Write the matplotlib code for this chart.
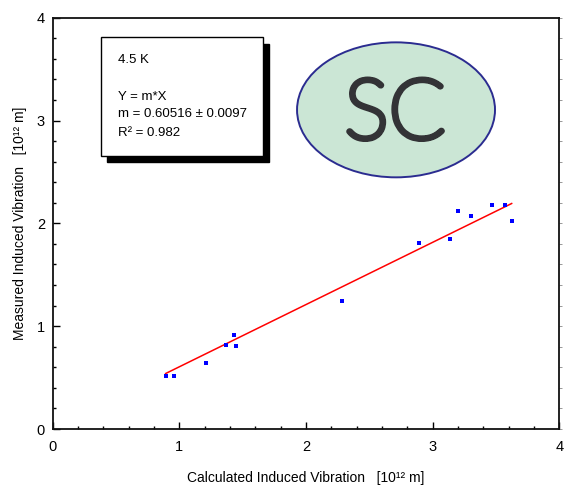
import numpy as np
import matplotlib
matplotlib.use("Agg")
import matplotlib.pyplot as plt
import matplotlib.patheffects as pe
from matplotlib.patches import Ellipse, Rectangle
from matplotlib.ticker import MultipleLocator

plt.rcParams['font.family'] = ['Liberation Sans', 'DejaVu Sans']

# calculated vs measured induced vibration at 4.5 K, units of 10^12 m
calc_vib = [0.892, 0.958, 1.213, 1.371, 1.434, 1.445, 2.282,
            2.890, 3.137, 3.198, 3.300, 3.471, 3.574, 3.624]
meas_vib = [0.513, 0.513, 0.639, 0.814, 0.917, 0.804, 1.248,
            1.806, 1.845, 2.124, 2.075, 2.182, 2.182, 2.023]

# linear fit through the origin, Y = m*X
slope = 0.60516
slope_err = 0.0097
r_squared = 0.982
temperature = "4.5 K"

fig = plt.figure(figsize=(5.65, 4.88), dpi=100)
ax = fig.add_axes([0.0933, 0.1209, 0.8966, 0.8428])

ax.plot(calc_vib, meas_vib, 's', color='#0000ff', markersize=2.4,
        markeredgewidth=0, zorder=3)

fit_x = np.array([min(calc_vib), max(calc_vib)])
ax.plot(fit_x, slope * fit_x, color='#ff0000', linewidth=1.1, zorder=2)

ax.set_xlim(0, 4)
ax.set_ylim(0, 4)
ax.xaxis.set_major_locator(MultipleLocator(1))
ax.xaxis.set_minor_locator(MultipleLocator(0.2))
ax.yaxis.set_major_locator(MultipleLocator(1))
ax.yaxis.set_minor_locator(MultipleLocator(0.2))

ax.tick_params(axis='x', which='major', direction='in', length=5, width=1,
               labelsize=10.5, pad=8)
ax.tick_params(axis='x', which='minor', direction='in', length=2.5, width=1)
ax.tick_params(axis='y', which='major', direction='in', length=5, width=1,
               labelsize=10.5, pad=5.5)
ax.tick_params(axis='y', which='minor', direction='in', length=2.5, width=1)

# short outward ticks along the right frame
ax_r = ax.secondary_yaxis('right')
ax_r.yaxis.set_major_locator(MultipleLocator(0.2))
ax_r.tick_params(direction='out', length=2.5, width=0.6, colors='#888888',
                 labelright=False)
ax_r.spines['right'].set_visible(False)

for sp in ax.spines.values():
    sp.set_linewidth(1.3)
    sp.set_color('#111111')

ax.set_xlabel('Calculated Induced Vibration   [10¹² m]', fontsize=10, labelpad=12)
ax.set_ylabel('Measured Induced Vibration   [10¹² m]', fontsize=10, labelpad=7)

# fit results box with drop shadow
box_x0, box_y0, box_w, box_h = 0.0947, 0.6638, 0.3198, 0.2885
ax.add_patch(Rectangle((box_x0 + 0.0118, box_y0 - 0.0158), box_w, box_h,
                       transform=ax.transAxes, facecolor='black',
                       edgecolor='black', zorder=4))
ax.add_patch(Rectangle((box_x0, box_y0), box_w, box_h,
                       transform=ax.transAxes, facecolor='white',
                       edgecolor='black', linewidth=1.0, zorder=5))
box_lines = [
    (0.897, temperature),
    (0.808, "Y = m*X"),
    (0.765, f"m = {slope:.5f} ± {slope_err:.4f}"),
    (0.719, f"R² = {r_squared:.3f}"),
]
for ty, txt in box_lines:
    ax.text(0.1283, ty, txt, transform=ax.transAxes, fontsize=9.5,
            va='center', ha='left', zorder=6)

# SC logo: thin letters thickened with a stroke of the same colour
logo_color = '#333336'
ax.add_patch(Ellipse((0.6777, 0.776), 0.3908, 0.3282, transform=ax.transAxes,
                     facecolor='#cbe6d5', edgecolor='#2b2c90', linewidth=1.4,
                     zorder=4))
ax.text(0.6757, 0.7065, "SC", transform=ax.transAxes, fontsize=60,
        family=['Lato', 'DejaVu Sans'], fontweight='light', color=logo_color,
        ha='center', va='baseline', zorder=5,
        path_effects=[pe.withStroke(linewidth=4.2, foreground=logo_color)])

fig.savefig("out.png", dpi=100)
